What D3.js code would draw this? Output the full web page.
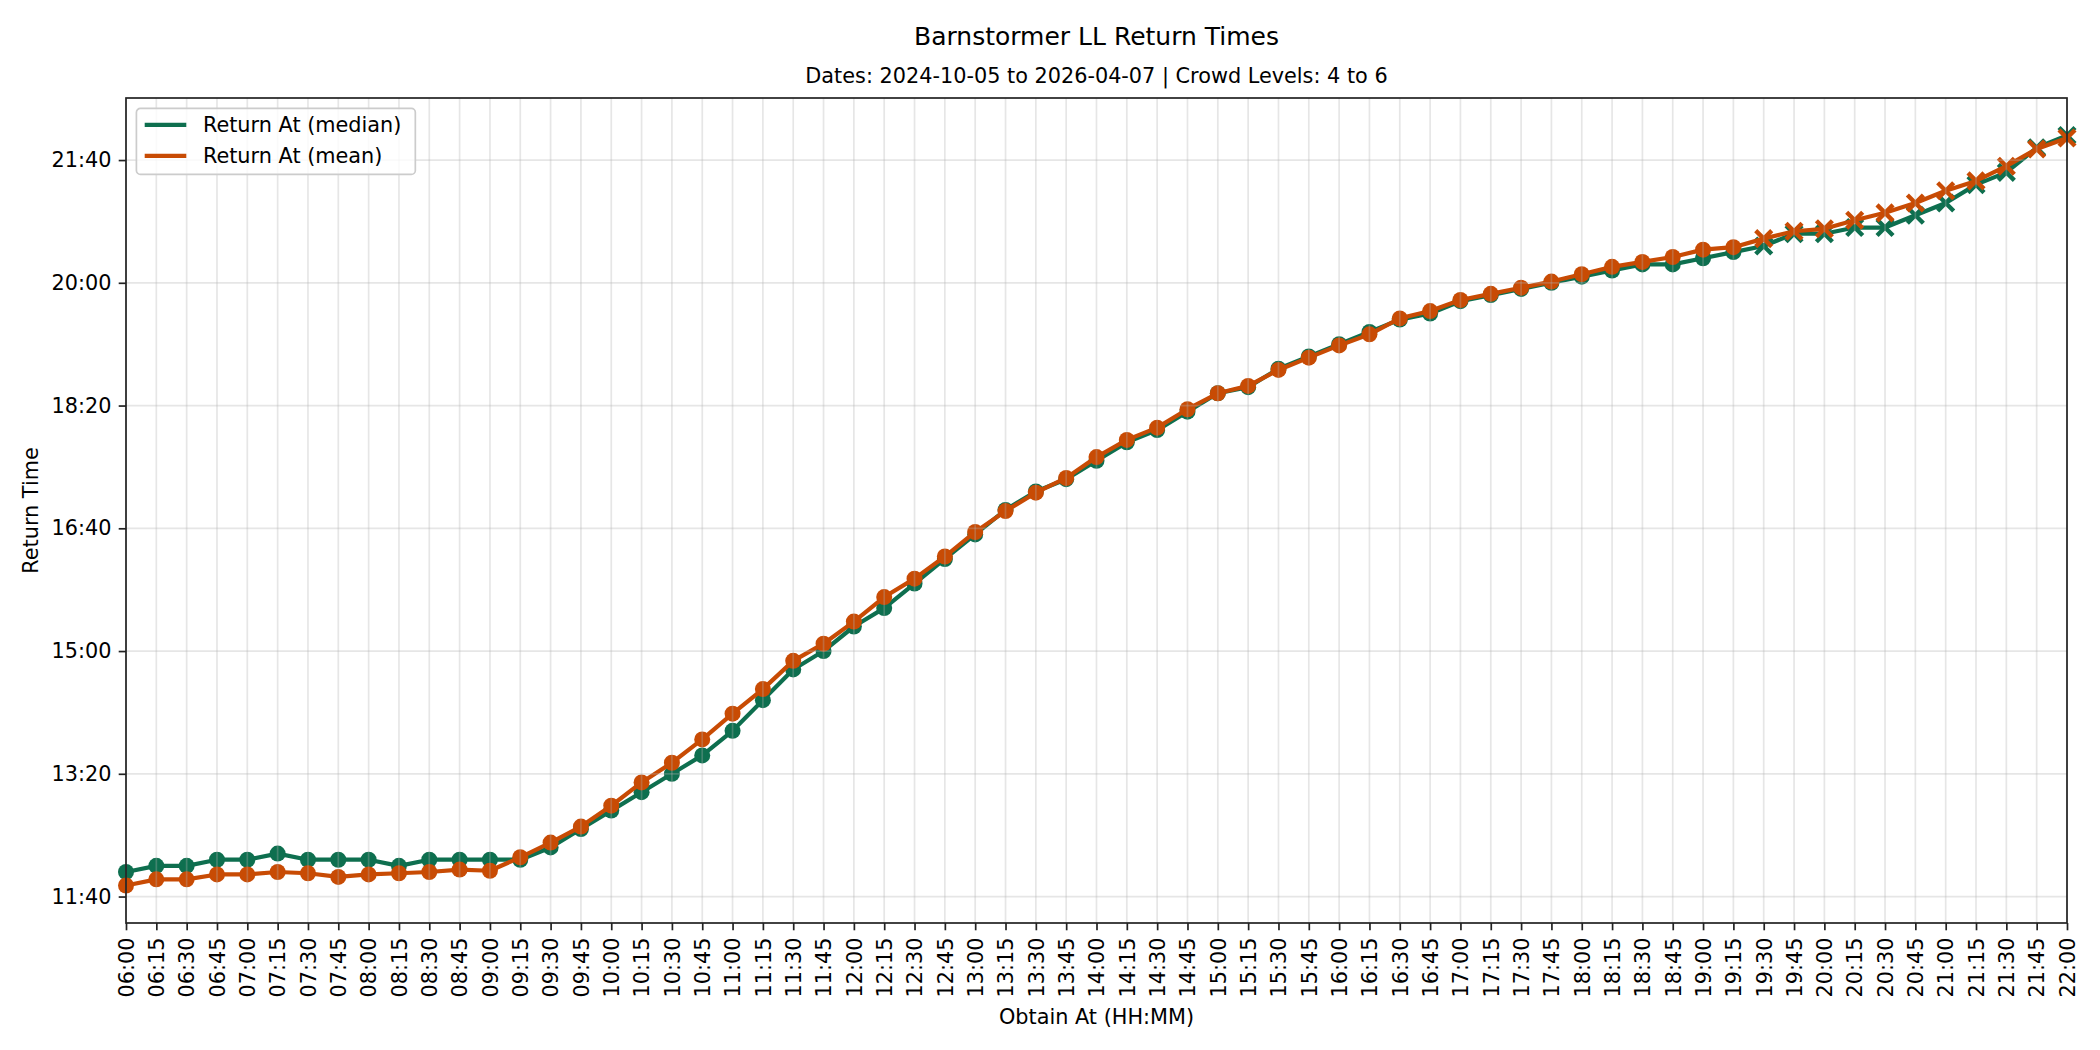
<!DOCTYPE html>
<html>
<head>
<meta charset="utf-8">
<title>Barnstormer LL Return Times</title>
<script src="https://cdn.jsdelivr.net/npm/d3@7"></script>
<style>
  body { margin: 0; background: #fff; }
  svg { display: block; font-family: "DejaVu Sans", sans-serif; }
</style>
</head>
<body>
<div id="chart"></div>
<script>

// obtain times (x categories), every 15 minutes
var obtainAt = [
  "06:00","06:15","06:30","06:45","07:00","07:15","07:30","07:45",
  "08:00","08:15","08:30","08:45","09:00","09:15","09:30","09:45",
  "10:00","10:15","10:30","10:45","11:00","11:15","11:30","11:45",
  "12:00","12:15","12:30","12:45","13:00","13:15","13:30","13:45",
  "14:00","14:15","14:30","14:45","15:00","15:15","15:30","15:45",
  "16:00","16:15","16:30","16:45","17:00","17:15","17:30","17:45",
  "18:00","18:15","18:30","18:45","19:00","19:15","19:30","19:45",
  "20:00","20:15","20:30","20:45","21:00","21:15","21:30","21:45",
  "22:00"
];

// return time, minutes after midnight
var returnMedian = [
  720, 725, 725, 730, 730, 735, 730, 730, 730, 725, 730, 730, 730, 730, 740, 755,
  770, 785, 800, 815, 835, 860, 885, 900, 920, 935, 955, 975, 995, 1015, 1030, 1040,
  1055, 1070, 1080, 1095, 1110, 1115, 1130, 1140, 1150, 1160, 1170, 1175, 1185, 1190, 1195, 1200,
  1205, 1210, 1215, 1215, 1220, 1225, 1230, 1240, 1240, 1245, 1245, 1255, 1265, 1280, 1290, 1310,
  1320
];

var returnMean = [
  709, 714, 714, 718, 718, 720, 719, 716, 718, 719, 720, 722, 721, 732, 744, 757,
  774, 793, 809, 828, 849, 869, 892, 906, 924, 944, 959, 977, 997, 1014, 1029, 1041,
  1058, 1072, 1082, 1097, 1110, 1116, 1129, 1139, 1149, 1158, 1171, 1177, 1186, 1191, 1196, 1201,
  1207, 1213, 1217, 1221, 1227, 1229, 1236, 1242, 1244, 1251, 1257, 1265, 1275, 1283, 1295, 1309,
  1318
];

var seriesNames = ["Return At (median)", "Return At (mean)"];
var yTicks = [700, 800, 900, 1000, 1100, 1200, 1300];

// points from this obtain time on are drawn with an x instead of a dot
var crossFrom = "19:30";


function toMinutes(s) {
  var p = s.split(":");
  return +p[0] * 60 + +p[1];
}

function hhmm(m) {
  return d3.format("02d")(Math.floor(m / 60)) + ":" + d3.format("02d")(Math.round(m % 60));
}


function returnChart() {

  var margin = {top: 98, right: 33, bottom: 127, left: 126},
    width = 2100,
    height = 1050,
    colors = ["#0e6f4f", "#c84b04"],
    fontSize = 20.8;

  function chart(selection) {
    selection.each(function () {

      var innerWidth = width - margin.left - margin.right,
        innerHeight = height - margin.top - margin.bottom;

      var svg = d3.select(this).append("svg")
        .attr("width", width)
        .attr("height", height);

      var g = svg.append("g")
        .attr("transform", "translate(" + margin.left + "," + margin.top + ")");

      var xs = obtainAt.map(toMinutes);
      var all = returnMedian.concat(returnMean);
      var lo = d3.min(all), hi = d3.max(all), pad = (hi - lo) * 0.05;

      var x = d3.scaleLinear()
        .domain([xs[0], xs[xs.length - 1]])
        .range([0, innerWidth]);

      var y = d3.scaleLinear()
        .domain([lo - pad, hi + pad])
        .range([innerHeight, 0]);

      var cut = toMinutes(crossFrom);

      var series = [returnMedian, returnMean].map(function (vals, i) {
        return {
          name: seriesNames[i],
          color: colors[i],
          points: vals.map(function (v, j) { return {x: xs[j], y: v}; })
        };
      });

      var line = d3.line()
        .x(function (d) { return x(d.x); })
        .y(function (d) { return y(d.y); });

      series.forEach(function (s) {
        var sg = g.append("g");

        sg.append("path")
          .datum(s.points)
          .attr("fill", "none")
          .attr("stroke", s.color)
          .attr("stroke-width", 4.2)
          .attr("stroke-linejoin", "round")
          .attr("d", line);

        sg.selectAll("circle")
          .data(s.points.filter(function (d) { return d.x < cut; }))
          .enter().append("circle")
          .attr("cx", function (d) { return x(d.x); })
          .attr("cy", function (d) { return y(d.y); })
          .attr("r", 8)
          .attr("fill", s.color);

        var r = 8;
        sg.selectAll("path.cross")
          .data(s.points.filter(function (d) { return d.x >= cut; }))
          .enter().append("path")
          .attr("class", "cross")
          .attr("transform", function (d) { return "translate(" + x(d.x) + "," + y(d.y) + ")"; })
          .attr("d", "M" + -r + "," + -r + "L" + r + "," + r + "M" + -r + "," + r + "L" + r + "," + -r)
          .attr("stroke", s.color)
          .attr("stroke-width", 4.4)
          .attr("fill", "none");
      });

      // grid sits over the lines, faint
      var grid = g.append("g")
        .attr("stroke", "#b0b0b0")
        .attr("stroke-opacity", 0.32)
        .attr("stroke-width", 1.7);

      grid.selectAll("line.gx")
        .data(xs)
        .enter().append("line")
        .attr("x1", function (d) { return x(d); })
        .attr("x2", function (d) { return x(d); })
        .attr("y1", 0)
        .attr("y2", innerHeight);

      grid.selectAll("line.gy")
        .data(yTicks)
        .enter().append("line")
        .attr("x1", 0)
        .attr("x2", innerWidth)
        .attr("y1", function (d) { return y(d); })
        .attr("y2", function (d) { return y(d); });

      // axes
      var xAxis = g.append("g")
        .attr("transform", "translate(0," + innerHeight + ")")
        .call(d3.axisBottom(x).tickValues(xs).tickFormat(hhmm).tickSize(7.3).tickPadding(7.3));

      xAxis.selectAll("text")
        .attr("transform", "rotate(-90)")
        .attr("x", -14.6)
        .attr("y", 0)
        .attr("dy", "0.35em")
        .attr("text-anchor", "end");

      var yAxis = g.append("g")
        .call(d3.axisLeft(y).tickValues(yTicks).tickFormat(hhmm).tickSize(7.3).tickPadding(7.3));

      [xAxis, yAxis].forEach(function (a) {
        a.select(".domain").remove();
        a.selectAll("line").attr("stroke", "#222").attr("stroke-width", 1.7);
        a.selectAll("text").attr("fill", "#000").attr("font-size", fontSize)
          .attr("font-family", "DejaVu Sans, sans-serif");
      });

      g.append("rect")
        .attr("width", innerWidth)
        .attr("height", innerHeight)
        .attr("fill", "none")
        .attr("stroke", "#222")
        .attr("stroke-width", 1.7);

      // titles and labels
      svg.append("text")
        .attr("x", margin.left + innerWidth / 2)
        .attr("y", 45)
        .attr("text-anchor", "middle")
        .attr("font-size", 25)
        .text("Barnstormer LL Return Times");

      svg.append("text")
        .attr("x", margin.left + innerWidth / 2)
        .attr("y", 83)
        .attr("text-anchor", "middle")
        .attr("font-size", fontSize)
        .text("Dates: 2024-10-05 to 2026-04-07 | Crowd Levels: 4 to 6");

      svg.append("text")
        .attr("x", margin.left + innerWidth / 2)
        .attr("y", 1024)
        .attr("text-anchor", "middle")
        .attr("font-size", fontSize)
        .text("Obtain At (HH:MM)");

      svg.append("text")
        .attr("transform", "translate(38," + (margin.top + innerHeight / 2) + ") rotate(-90)")
        .attr("text-anchor", "middle")
        .attr("font-size", fontSize)
        .text("Return Time");

      // legend
      var lg = g.append("g").attr("transform", "translate(10.4,10.4)");

      var frame = lg.append("rect")
        .attr("rx", 4)
        .attr("fill", "#fff")
        .attr("fill-opacity", 0.8)
        .attr("stroke", "#cccccc")
        .attr("stroke-width", 1.7);

      var items = lg.selectAll("g.item")
        .data(series)
        .enter().append("g")
        .attr("transform", function (d, i) { return "translate(0," + (16.5 + i * 31) + ")"; });

      items.append("line")
        .attr("x1", 8.3)
        .attr("x2", 49.9)
        .attr("stroke", function (d) { return d.color; })
        .attr("stroke-width", 4.2);

      var labels = items.append("text")
        .attr("x", 66.5)
        .attr("dy", "0.35em")
        .attr("font-size", fontSize)
        .text(function (d) { return d.name; });

      var wmax = d3.max(labels.nodes(), function (n) { return n.getComputedTextLength(); });
      frame.attr("width", 66.5 + wmax + 14).attr("height", 66);
    });
  }

  chart.margin = function (_) {
    if (!arguments.length) return margin;
    margin = _;
    return chart;
  };

  chart.width = function (_) {
    if (!arguments.length) return width;
    width = _;
    return chart;
  };

  chart.height = function (_) {
    if (!arguments.length) return height;
    height = _;
    return chart;
  };

  return chart;
}

d3.select("#chart").call(returnChart());

</script>
</body>
</html>
